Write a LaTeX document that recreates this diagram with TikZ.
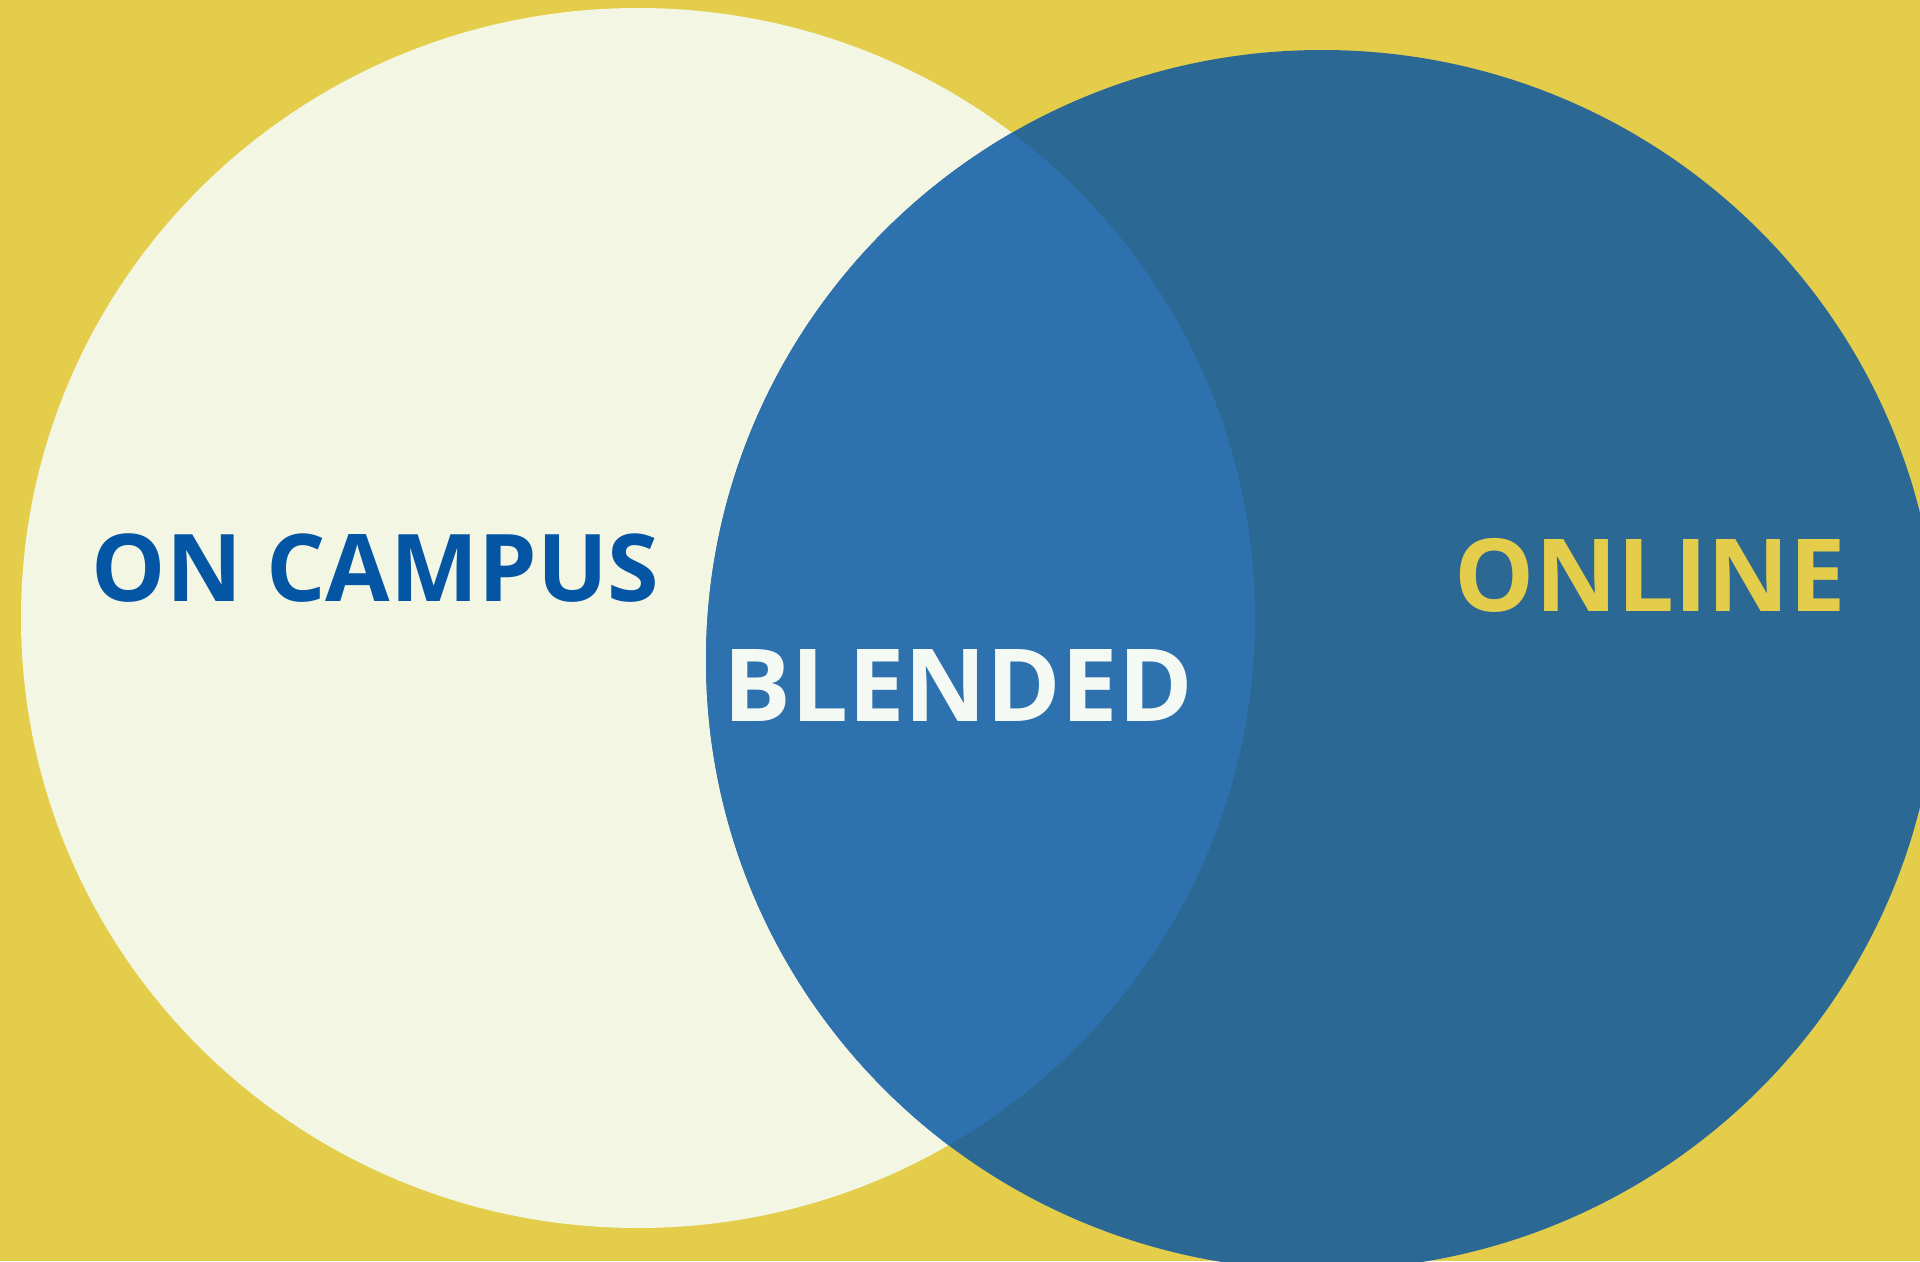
\documentclass[tikz,border=0pt]{standalone}
\usepackage{fontspec}
\setmainfont{Open Sans}
\usepackage{tikz}

\begin{document}
\begin{tikzpicture}
			[x=1cm,y=1cm,line cap=round,
			%Styles
			set label/.style={anchor=base west,inner sep=0pt,font=\bfseries\fontsize{#1}{#1}\selectfont},
			set label/.default=28.7pt
			]
			
			%Colors
			\definecolor{backyellow}{HTML}{E4CD4B}	%background and online text
			\definecolor{campusfill}{HTML}{F2F6E2}
			\definecolor{onlinefill}{HTML}{2C6894}
			\definecolor{blendfill}{HTML}{2D71AE}
			\definecolor{campustext}{HTML}{0555A5}
			\definecolor{blendtext}{HTML}{F4F9F4}
			
			%The graphic
			\fill[backyellow] (0,0) rectangle (19.2,-12.61);
			\useasboundingbox (0,0) rectangle (19.2,-12.61);
			
			\fill[campusfill] (6.38,-6.18) ellipse [x radius=6.17, y radius=6.10];
			\fill[onlinefill] (13.22,-6.60) ellipse [x radius=6.16, y radius=6.10];
			\begin{scope}
				\clip (6.38,-6.18) ellipse [x radius=6.17, y radius=6.10];
				\fill[blendfill] (13.22,-6.60) ellipse [x radius=6.16, y radius=6.10];
			\end{scope}
			
			\node[set label=26.6pt,campustext] (campus) at (0.91,-6.01) {ON CAMPUS};
			\node[set label,blendtext] (blended) at (7.23,-7.21) {BLENDED};
			\node[set label,backyellow] (online) at (14.54,-6.11) {ONLINE};
		\end{tikzpicture}
\end{document}
